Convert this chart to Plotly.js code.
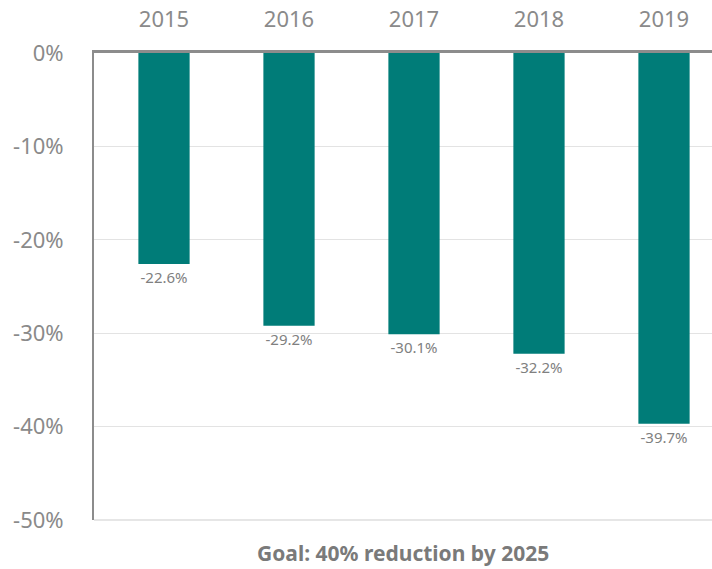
<!DOCTYPE html>
<html>
<head>
<meta charset="utf-8">
<script src="https://cdn.plot.ly/plotly-3.0.1.min.js"></script>
<style>html,body{margin:0;padding:0;background:#fff;}#chart{width:712px;height:569px;}</style>
</head>
<body>
<div id="chart"></div>
<script>
const years = ['2015', '2016', '2017', '2018', '2019'];
const reduction = [-22.6, -29.2, -30.1, -32.2, -39.7];
const yTicks = [0, -10, -20, -30, -40, -50];
const yTickLabels = ['0%', '-10%', '-20%', '-30%', '-40%', '-50%'];
const goalText = 'Goal: 40% reduction by 2025';

const trace = {
  type: 'bar',
  x: years,
  y: reduction,
  width: 0.41,
  marker: {color: '#007c78'},
  text: reduction.map(v => v.toFixed(1) + '%'),
  textposition: 'outside',
  textfont: {family: 'Noto Sans, sans-serif', size: 15, color: '#808080'},
  cliponaxis: false,
  hoverinfo: 'none'
};

const layout = {
  width: 712, height: 569,
  margin: {l: 94, r: 0, t: 53, b: 49},
  paper_bgcolor: '#fff', plot_bgcolor: '#fff',
  showlegend: false,
  font: {family: 'Noto Sans, sans-serif', color: '#888888'},
  xaxis: {
    type: 'category', side: 'top',
    range: [-0.56, 4.384],
    showline: true, linecolor: '#8c8c8c', linewidth: 3,
    showgrid: false, ticks: '',
    tickfont: {size: 22, color: '#8a8a8a'},
    ticklabelstandoff: 14
  },
  yaxis: {
    range: [-50, 0],
    tickvals: yTicks, ticktext: yTickLabels,
    showline: true, linecolor: '#8c8c8c', linewidth: 2,
    showgrid: true, gridcolor: '#e3e3e3', gridwidth: 1,
    zeroline: false, ticks: '',
    tickfont: {size: 22, color: '#8a8a8a'},
    ticklabelstandoff: 24
  },
  shapes: [{
    type: 'line', xref: 'paper', yref: 'paper', x0: 0, x1: 1, y0: 0, y1: 0,
    line: {color: '#dedede', width: 1.5}, layer: 'below'
  }],
  annotations: [{
    text: '<b>' + goalText + '</b>',
    xref: 'paper', yref: 'paper', x: 0.5, y: 0, yshift: -33,
    xanchor: 'center', yanchor: 'middle', showarrow: false,
    font: {family: 'Noto Sans, sans-serif', size: 21, color: '#7a7a7a'}
  }]
};

Plotly.newPlot('chart', [trace], layout, {displayModeBar: false, staticPlot: true});
</script>
</body>
</html>
